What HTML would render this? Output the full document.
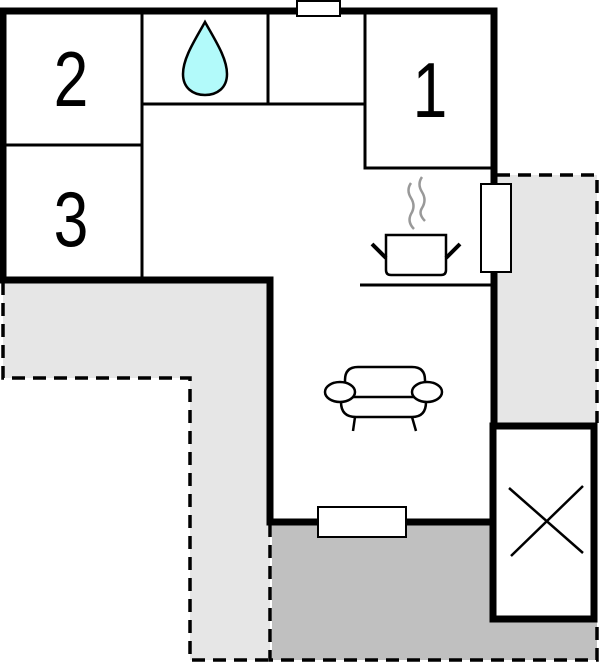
<!DOCTYPE html>
<html><head><style>html,body{margin:0;padding:0;background:#fff}svg{display:block}</style></head>
<body>
<svg width="600" height="664" viewBox="0 0 600 664" xmlns="http://www.w3.org/2000/svg">
<!-- gray regions -->
<polygon points="3,281 270,281 270,660 190,660 190,378 3,378" fill="#e6e6e6"/>
<rect x="497" y="175" width="100" height="248" fill="#e6e6e6"/>
<rect x="272" y="524" width="325" height="136" fill="#c0c0c0"/>
<!-- dashed edges -->
<g stroke="#000" stroke-width="3.5" stroke-dasharray="13,8" fill="none">
<polyline points="3,282 3,378 190,378 190,660 272,660"/>
<polyline points="270,524 270,660 597,660 597,620"/>
<polyline points="497,175 597,175 597,423"/>
</g>
<!-- thin inner lines -->
<g stroke="#000" stroke-width="3" fill="none">
<line x1="142" y1="11" x2="142" y2="280"/>
<line x1="3" y1="145" x2="142" y2="145"/>
<line x1="142" y1="104" x2="365" y2="104"/>
<line x1="268" y1="11" x2="268" y2="104"/>
<polyline points="365,11 365,168 494,168"/>
<line x1="360" y1="285" x2="492" y2="285"/>
</g>
<!-- thick walls -->
<g stroke="#000" stroke-width="7" fill="none" stroke-linecap="square">
<polyline points="3,278 3,11 494,11 494,420"/>
<polyline points="0,280 270,280 270,522 490,522"/>
<rect x="493" y="426" width="101" height="193" fill="#fff"/>
</g>
<!-- windows -->
<g fill="#fff" stroke="#000" stroke-width="2">
<rect x="297" y="1" width="43" height="15"/>
<rect x="481" y="184" width="30" height="88"/>
<rect x="318" y="507" width="88" height="30"/>
</g>
<!-- X -->
<g stroke="#000" stroke-width="2.5">
<line x1="509" y1="488" x2="583" y2="553"/>
<line x1="583" y1="486" x2="511" y2="556"/>
</g>
<!-- drop -->
<path d="M205,22 C195,40 183,58 183,74 C183,88 193,95 205,95 C217,95 227,88 227,74 C227,58 215,40 205,22 Z" fill="#b2fafa" stroke="#000" stroke-width="2.5"/>
<!-- pot -->
<g stroke="#000" fill="none">
<path d="M386,235 H446 V270 Q446,275 441,275 H391 Q386,275 386,270 Z" stroke-width="2.5" fill="#fff"/>
<line x1="372" y1="244" x2="386" y2="258" stroke-width="4"/>
<line x1="460" y1="244" x2="446" y2="258" stroke-width="4"/>
</g>
<g stroke="#999" stroke-width="2.5" fill="none">
<path d="M411,183 Q406,190 411,198 Q416,206 411,214 Q407,222 414,229"/>
<path d="M422,177 Q417,184 422,192 Q427,200 422,208 Q418,214 425,221"/>
</g>
<!-- sofa -->
<g stroke="#000" stroke-width="2.5" fill="#fff">
<path d="M345,392 V380 Q345,367 358,367 H412 Q425,367 425,380 V392"/>
<path d="M341,395 V402 Q341,417 356,417 H412 Q426,417 426,402 V395"/>
<line x1="355" y1="417" x2="353" y2="431"/>
<line x1="412" y1="417" x2="416" y2="431"/>
<line x1="352" y1="397" x2="414" y2="397"/>
<ellipse cx="340" cy="392" rx="15" ry="10"/>
<ellipse cx="427" cy="392" rx="15" ry="10"/>
</g>
<!-- numbers -->
<g font-family="Liberation Sans, sans-serif" font-size="78" fill="#000" text-anchor="middle">
<text transform="translate(71,106) scale(0.8,1)">2</text>
<text transform="translate(71,246) scale(0.8,1)">3</text>
<text transform="translate(430,117) scale(0.8,1)">1</text>
</g>
</svg>
</body></html>
